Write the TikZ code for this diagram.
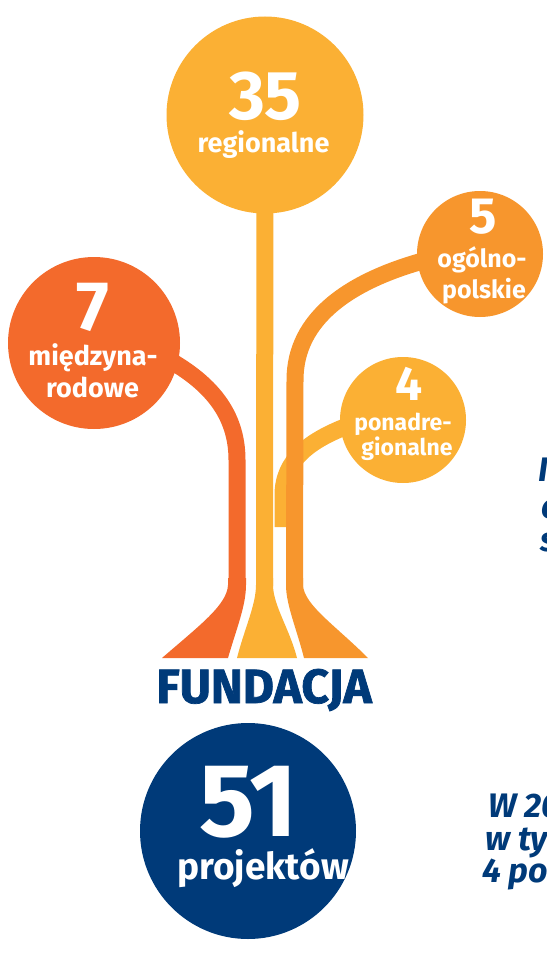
\documentclass[tikz,border=0pt]{standalone}
\usepackage{fontspec}
\setmainfont{Fira Sans}
\newfontfamily\heavyfont{Fira Sans}[BoldFeatures={FakeBold=1.5}]
\definecolor{cred}{RGB}{243,106,44}
\definecolor{cyellow}{RGB}{251,176,52}
\definecolor{corange}{RGB}{247,150,45}
\definecolor{cnavy}{RGB}{0,58,121}
\newcommand{\fs}[1]{\fontsize{#1}{#1}\selectfont}
\begin{document}
\begin{tikzpicture}[x=1pt,y=-1pt,
  stem/.style={line width=17pt, line join=round},
  disc/.style={circle, inner sep=0pt, minimum size=#1},
  lbl/.style={white, anchor=base, inner sep=0pt, font=\bfseries},
  side/.style={cnavy, anchor=base west, inner sep=0pt, font=\fs{34}\bfseries\itshape}]
\useasboundingbox (0,0) rectangle (546,955);
\clip (0,0) rectangle (546,955);
\coordinate (c35p) at (265,115);
\coordinate (c7p) at (94,343);
\coordinate (c5p) at (480,254);
\coordinate (c4p) at (403,420);
% stem coordinates
\coordinate (t35) at (264.5,586);
\coordinate (r1) at (160,355);
\coordinate (r2) at (237,460);
\coordinate (r3) at (237,586);
\coordinate (o1) at (430,259);
\coordinate (o2) at (295,380);
\coordinate (o3) at (294.5,586);
\coordinate (y1) at (350,425);
\coordinate (y2) at (283,495);
\coordinate (y3) at (283,527);
% stems
\draw[stem, cred] (c7p) -- (r1) .. controls (212,382) and (237,415) .. (r2) -- (r3);
\draw[stem, cyellow] (c35p) -- (t35);
\draw[stem, cyellow] (c4p) -- (y1) .. controls (310,440) and (283,460) .. (y2) -- (y3);
\draw[stem, corange] (c5p) -- (o1) .. controls (350,280) and (295,318) .. (o2) -- (o3);
% flares
\fill[cred] (228,578) -- (228,585) .. controls (227,605) and (200,625) .. (162,658)
  -- (228,658) .. controls (236,630) and (246,606) .. (246,585) -- (246,578) -- cycle;
\fill[cyellow] (256,578) -- (256,585) .. controls (256,605) and (244,630) .. (237,658)
  -- (297,658) .. controls (290,630) and (273,605) .. (273,585) -- (273,578) -- cycle;
\fill[corange] (286,578) -- (286,585) .. controls (286,605) and (297,630) .. (304,658)
  -- (368,658) .. controls (335,625) and (304,605) .. (303,585) -- (303,578) -- cycle;
% circles
\node[disc=197pt, fill=cyellow] (c35) at (c35p) {};
\node[disc=172pt, fill=cred] (c7) at (c7p) {};
\node[disc=126pt, fill=corange] (c5) at (c5p) {};
\node[disc=126pt, fill=cyellow] (c4) at (c4p) {};
\node[disc=216pt, fill=cnavy] (c51) at (248,831) {};
% labels
\node[lbl, font=\fs{69}\bfseries] (n35) at (265.5,120) {35};
\node[lbl, font=\fs{27}\bfseries] (l35) at (263.5,153) {regionalne};
\node[lbl, font=\fs{70}\bfseries] (n7) at (93,330) {7};
\node[lbl, font=\fs{27}\bfseries] (l7a) at (93,365) {międzyna-};
\node[lbl, font=\fs{27}\bfseries] (l7b) at (92.5,397) {rodowe};
\node[lbl, font=\fs{51}\bfseries] (n5) at (483,233) {5};
\node[lbl, font=\fs{25}\bfseries] (l5a) at (482,267) {ogólno-};
\node[lbl, font=\fs{25}\bfseries] (l5b) at (484,298) {polskie};
\node[lbl, font=\fs{48}\bfseries] (n4) at (409,400) {4};
\node[lbl, font=\fs{23}\bfseries] (l4a) at (403,430) {ponadre-};
\node[lbl, font=\fs{23}\bfseries] (l4b) at (407,455) {gionalne};
\node[lbl, font=\fs{104}\bfseries] (n51) at (249,836) {51};
\node[lbl, font=\fs{37}\bfseries] (l51) at (263,879) {projektów};
\node[cnavy, anchor=base, inner sep=0pt, font=\fs{48}\heavyfont\bfseries] (fund) at (264,703) {FUNDACJA};
% cut text on the right
\node[side] (s1) at (538,481) {I};
\node[side] (s2) at (541,518) {c};
\node[side] (s3) at (540,551) {s};
\node[side] (w1) at (488,817) {W 20};
\node[side] (w2) at (485,850) {w ty};
\node[side] (w3) at (482,882) {4 po};
\end{tikzpicture}
\end{document}
